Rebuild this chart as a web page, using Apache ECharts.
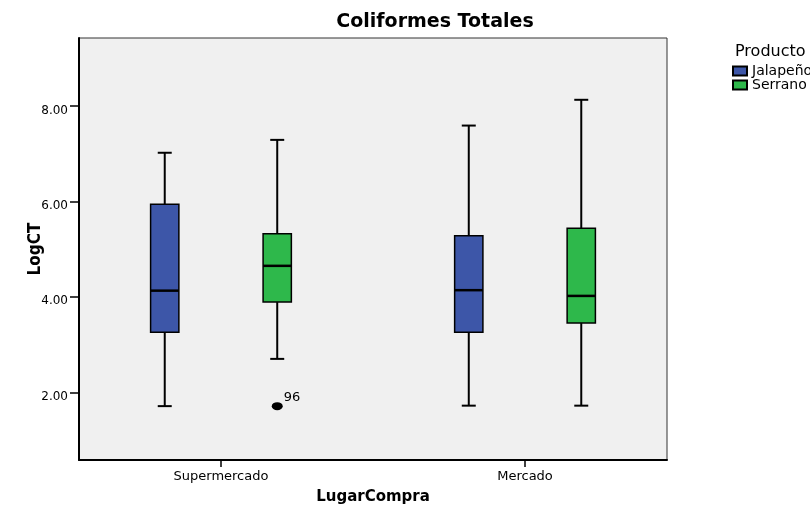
<!DOCTYPE html>
<html><head><meta charset="utf-8">
<script src="https://cdn.jsdelivr.net/npm/echarts@6/dist/echarts.min.js"></script>
<style>html,body{margin:0;padding:0;background:#fff}#c{width:810px;height:506px}</style>
</head><body><div id="c"></div>
<script>
const categories = ['Supermercado', 'Mercado'];
const products = ['Jalapeño', 'Serrano'];
// [min, q1, median, q3, max] per category
const jalapeno = [[1.71, 3.26, 4.13, 5.94, 7.02], [1.72, 3.26, 4.14, 5.28, 7.59]];
const serrano = [[2.70, 3.89, 4.65, 5.32, 7.29], [1.72, 3.45, 4.02, 5.44, 8.13]];
// [category index, product index, value, label]
const outliers = [[0, 1, 1.71, '96']];
const yTicks = [2, 4, 6, 8];

const colors = ['#3d56a8', '#2eb84b'];
const offsets = [-0.185, 0.185];
const FONT = '"DejaVu Sans", "Liberation Sans", sans-serif';
const FONT_COND = '"DejaVu Sans Condensed", "DejaVu Sans", sans-serif';

function toData(stats, p) {
  return stats.map((s, i) => [i + offsets[p], ...s]);
}

function renderBox(params, api) {
  const x = api.value(0);
  const mn = api.coord([x, api.value(1)]);
  const q1 = api.coord([x, api.value(2)]);
  const md = api.coord([x, api.value(3)]);
  const q3 = api.coord([x, api.value(4)]);
  const mx = api.coord([x, api.value(5)]);
  const bw = api.size([0.093, 0])[0];
  const cw = api.size([0.046, 0])[0];
  const cx = mn[0];
  const ls = { stroke: '#000', lineWidth: 2 };
  return {
    type: 'group',
    children: [
      { type: 'line', shape: { x1: cx, y1: mx[1], x2: cx, y2: q3[1] }, style: ls },
      { type: 'line', shape: { x1: cx, y1: q1[1], x2: cx, y2: mn[1] }, style: ls },
      { type: 'line', shape: { x1: cx - cw / 2, y1: mx[1], x2: cx + cw / 2, y2: mx[1] }, style: ls },
      { type: 'line', shape: { x1: cx - cw / 2, y1: mn[1], x2: cx + cw / 2, y2: mn[1] }, style: ls },
      { type: 'rect', shape: { x: cx - bw / 2, y: q3[1], width: bw, height: q1[1] - q3[1] },
        style: { fill: api.visual('color'), stroke: '#000', lineWidth: 1.5 } },
      { type: 'line', shape: { x1: cx - bw / 2, y1: md[1], x2: cx + bw / 2, y2: md[1] },
        style: { stroke: '#000', lineWidth: 2.5 } }
    ]
  };
}

const chart = echarts.init(document.getElementById('c'), null, { renderer: 'canvas' });
chart.setOption({
  animation: false,
  backgroundColor: '#fff',
  textStyle: { fontFamily: FONT },
  title: [
    { text: 'Coliformes Totales', left: 435, top: 13, textAlign: 'center', padding: 0,
      textStyle: { fontFamily: FONT, fontSize: 19, fontWeight: 'bold', color: '#000' } },
    { text: 'Producto', left: 735, top: 44, padding: 0,
      textStyle: { fontFamily: FONT, fontSize: 16, fontWeight: 'normal', color: '#000' } }
  ],
  legend: {
    data: products, orient: 'vertical', left: 732, top: 64, padding: 0,
    icon: 'rect', itemWidth: 14, itemHeight: 9, itemGap: 0,
    textStyle: { fontFamily: FONT, fontSize: 14, color: '#000' }
  },
  grid: { left: 79, top: 38, width: 588, height: 422, show: true, backgroundColor: '#f0f0f0',
    borderColor: '#333', borderWidth: 1, outerBoundsMode: 'none', containLabel: false },
  xAxis: {
    type: 'value', min: -0.467, max: 1.467,
    name: 'LugarCompra', nameLocation: 'middle', nameGap: 30, nameMoveOverlap: false,
    nameTextStyle: { fontFamily: FONT, fontSize: 15, fontWeight: 'bold', color: '#000' },
    axisLine: { onZero: false, lineStyle: { color: '#000', width: 2 } },
    axisTick: { show: true, length: 7, customValues: [0, 1], lineStyle: { color: '#000', width: 1.5 } },
    axisLabel: { customValues: [0, 1], formatter: v => categories[Math.round(v)], color: '#000',
      fontSize: 13, margin: 10, fontFamily: FONT },
    splitLine: { show: false }
  },
  yAxis: {
    type: 'value', min: 0.581, max: 9.425,
    name: 'LogCT', nameLocation: 'middle', nameGap: 35, nameRotate: 90, nameMoveOverlap: false,
    nameTextStyle: { fontFamily: FONT_COND, fontSize: 17, fontWeight: 'bold', color: '#000' },
    axisLine: { show: true, onZero: false, lineStyle: { color: '#000', width: 2 } },
    axisTick: { show: true, length: 9, customValues: yTicks, lineStyle: { color: '#000', width: 1.5 } },
    axisLabel: { customValues: yTicks, formatter: v => v.toFixed(2), color: '#000', fontSize: 12,
      margin: 11, fontFamily: FONT, verticalAlign: 'top', lineHeight: 9 },
    splitLine: { show: false }
  },
  series: [
    { name: products[0], type: 'custom', renderItem: renderBox, data: toData(jalapeno, 0),
      itemStyle: { color: colors[0], borderColor: '#000', borderWidth: 1 }, encode: { x: 0, y: [1, 2, 3, 4, 5] } },
    { name: products[1], type: 'custom', renderItem: renderBox, data: toData(serrano, 1),
      itemStyle: { color: colors[1], borderColor: '#000', borderWidth: 1 }, encode: { x: 0, y: [1, 2, 3, 4, 5] } },
    { type: 'scatter', symbol: 'circle', symbolSize: [11, 8],
      data: outliers.map(o => ({ value: [o[0] + offsets[o[1]], o[2]], label: o[3] })),
      itemStyle: { color: '#000', opacity: 1 },
      label: { show: true, position: 'right', distance: 1, offset: [0, -9], formatter: p => p.data.label,
        color: '#000', fontSize: 13, fontFamily: FONT } }
  ]
});
</script></body></html>
